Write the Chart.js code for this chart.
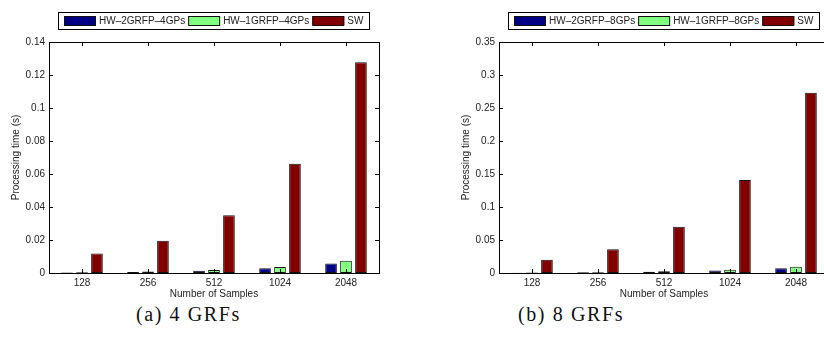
<!DOCTYPE html>
<html>
<head>
<meta charset="utf-8">
<script src="https://cdn.jsdelivr.net/npm/chart.js@4/dist/chart.umd.min.js"></script>
<style>
  html, body { margin: 0; padding: 0; background: #fff; }
  body { width: 824px; height: 343px; position: relative; overflow: hidden; }
  .panel { position: absolute; top: 0; width: 412px; height: 300px; }
  .caption {
    position: absolute; top: 302px; height: 24px; line-height: 24px;
    font-family: "Liberation Serif", serif; font-size: 20px; letter-spacing: 1.6px;
    color: #111; white-space: nowrap;
  }
</style>
</head>
<body>
<div class="panel" style="left:0px"><canvas id="chartA" width="412" height="300"></canvas></div>
<div class="panel" style="left:450px"><canvas id="chartB" width="412" height="300"></canvas></div>
<div class="caption" style="left:136px">(a) 4 GRFs</div>
<div class="caption" style="left:518px">(b) 8 GRFs</div>

<script>
// sample sizes on the x axis
const samples = ['128', '256', '512', '1024', '2048'];

// (a) 4 GRFs, processing time in seconds
const hw2grfp4 = [0.0003, 0.0006, 0.0014, 0.0029, 0.0057];
const hw1grfp4 = [0.0005, 0.0009, 0.0018, 0.0037, 0.0074];
const sw4 = [0.0118, 0.0195, 0.0350, 0.0662, 0.1277];

// (b) 8 GRFs
const hw2grfp8 = [0.0005, 0.0010, 0.0018, 0.0038, 0.0073];
const hw1grfp8 = [0.0008, 0.0012, 0.0025, 0.0048, 0.0094];
const sw8 = [0.0200, 0.0360, 0.0699, 0.1410, 0.2730];

const COLORS = {
  hw2: '#000085',
  hw1: '#80ff80',
  sw: '#800000',
  edge: '#111111',
  text: '#222222',
};

const FONT = 'Liberation Sans, Arial, sans-serif';

// MATLAB style box: frame, inward ticks on all four sides, framed legend
const boxPlugin = {
  id: 'matlabBox',
  afterDraw(chart) {
    const { ctx, chartArea: a, scales } = chart;
    const tl = 4;
    ctx.save();
    ctx.strokeStyle = '#000';
    ctx.lineWidth = 1;
    ctx.beginPath();
    scales.y.ticks.forEach(t => {
      const y = Math.round(scales.y.getPixelForValue(t.value)) + 0.5;
      ctx.moveTo(a.left, y); ctx.lineTo(a.left + tl, y);
      ctx.moveTo(a.right, y); ctx.lineTo(a.right - tl, y);
    });
    samples.forEach((s, i) => {
      const x = Math.round(scales.x.getPixelForValue(i)) + 0.5;
      ctx.moveTo(x, a.top); ctx.lineTo(x, a.top + tl);
      ctx.moveTo(x, a.bottom); ctx.lineTo(x, a.bottom - tl);
    });
    ctx.stroke();
    ctx.strokeRect(Math.round(a.left) + 0.5, Math.round(a.top) + 0.5,
      Math.round(a.right - a.left), Math.round(a.bottom - a.top));

    // legend, centred over the plot area, just above it
    const sets = chart.data.datasets;
    const bw = 32, bh = 9, gap = 3;
    ctx.font = '10px ' + FONT;
    const widths = sets.map(d => bw + gap + ctx.measureText(d.label).width);
    const total = widths.reduce((s, w) => s + w, 0) + gap * (sets.length - 1);
    let x = Math.round((a.left + a.right) / 2 - total / 2);
    const top = 16;
    ctx.strokeRect(x - 6 + 0.5, 12.5, Math.round(total + 12), 17);
    ctx.textBaseline = 'middle';
    sets.forEach((d, i) => {
      ctx.fillStyle = d.backgroundColor;
      ctx.fillRect(x, top, bw, bh);
      ctx.strokeStyle = COLORS.edge;
      ctx.strokeRect(x + 0.5, top + 0.5, bw - 1, bh);
      ctx.fillStyle = COLORS.text;
      ctx.fillText(d.label, x + bw + gap, top + bh / 2 + 1);
      x += widths[i] + gap;
    });
    ctx.restore();
  },
};

function makeChart(canvasId, names, series, yMax, yStep) {
  const ctx = document.getElementById(canvasId).getContext('2d');
  const fills = [COLORS.hw2, COLORS.hw1, COLORS.sw];
  const datasets = series.map((data, i) => ({
    label: names[i],
    data: data,
    backgroundColor: fills[i],
    borderColor: COLORS.edge,
    borderWidth: 1,
    borderSkipped: false,
    categoryPercentage: 0.68,
    barPercentage: 0.78,
  }));

  return new Chart(ctx, {
    type: 'bar',
    data: { labels: samples, datasets },
    options: {
      responsive: false,
      animation: false,
      layout: { padding: { top: 42, right: 33, left: 0, bottom: 0 } },
      plugins: {
        legend: { display: false },
        tooltip: { enabled: false },
      },
      scales: {
        x: {
          grid: { display: false, drawTicks: false, tickLength: 0 },
          border: { display: false },
          ticks: { color: COLORS.text, font: { family: FONT, size: 10 }, padding: 4 },
          title: { display: true, text: 'Number of Samples', color: COLORS.text,
                   font: { family: FONT, size: 10 }, padding: { top: 0, bottom: 0 } },
          afterFit: s => { s.height = 27; },
        },
        y: {
          min: 0,
          max: yMax,
          grid: { display: false, drawTicks: false, tickLength: 0 },
          border: { display: false },
          ticks: {
            stepSize: yStep,
            color: COLORS.text,
            font: { family: FONT, size: 10 },
            padding: 4,
            callback: v => String(+v.toFixed(4)),
          },
          title: { display: true, text: 'Processing time (s)', color: COLORS.text,
                   font: { family: FONT, size: 10 }, padding: { top: 10, bottom: 0 } },
          afterFit: s => { s.width = 49; },
        },
      },
    },
    plugins: [boxPlugin],
  });
}

makeChart('chartA', ['HW–2GRFP–4GPs', 'HW–1GRFP–4GPs', 'SW'],
  [hw2grfp4, hw1grfp4, sw4], 0.14, 0.02);
makeChart('chartB', ['HW–2GRFP–8GPs', 'HW–1GRFP–8GPs', 'SW'],
  [hw2grfp8, hw1grfp8, sw8], 0.35, 0.05);
</script>
</body>
</html>
